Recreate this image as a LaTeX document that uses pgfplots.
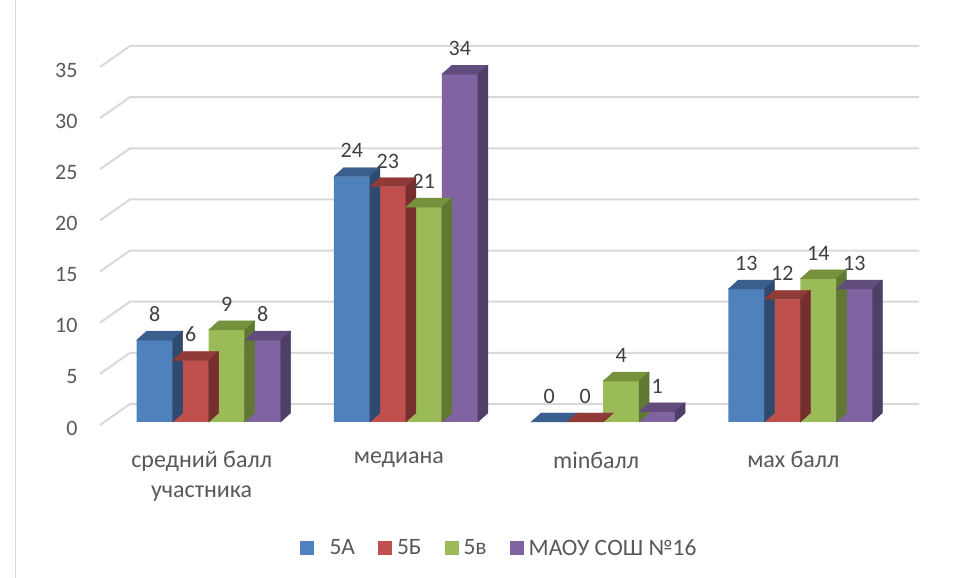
\documentclass[border=0pt]{standalone}
\usepackage{fontspec}
\setmainfont{Carlito}
\usepackage{pgfplots}
\pgfplotsset{compat=1.18}
\definecolor{cA}{HTML}{4F81BD}
\definecolor{cB}{HTML}{C0504D}
\definecolor{cC}{HTML}{9BBB59}
\definecolor{cD}{HTML}{8064A2}
\definecolor{tA}{HTML}{3A5F8F}
\definecolor{sA}{HTML}{2E4A6E}
\definecolor{tB}{HTML}{913B38}
\definecolor{sB}{HTML}{772F2D}
\definecolor{tC}{HTML}{76923C}
\definecolor{sC}{HTML}{617832}
\definecolor{tD}{HTML}{614D7D}
\definecolor{sD}{HTML}{4F3E66}
\definecolor{lbl}{HTML}{595959}
\definecolor{dlbl}{HTML}{404040}
\definecolor{gridc}{HTML}{D9D9D9}
\pgfdeclareplotmark{nomark}{}
\pgfplotsset{
  bars/.style={ybar, bar width=36pt, bar shift=#1, draw=none,
    nodes near coords,
    every node near coord/.append style={font=\fontsize{22}{26}\selectfont, text=dlbl, xshift=#1, yshift=15pt}},
  cube/.style n args={3}{forget plot, scatter, only marks, mark=nomark,
    visualization depends on={rawy \as \rawv},
    scatter/@pre marker code/.code={%
      \pgfmathsetmacro{\hh}{\rawv*358/35}%
      \fill[#2] (#1-18pt,0pt) -- (#1-8pt,9pt) -- (#1+28pt,9pt) -- (#1+18pt,0pt) -- cycle;
      \fill[#3] (#1+18pt,0pt) -- (#1+28pt,9pt) -- (#1+28pt,9pt-\hh pt) -- (#1+18pt,-\hh pt) -- cycle;
    },
    scatter/@post marker code/.code={}},
}
\begin{document}
\begin{tikzpicture}
\useasboundingbox (0,0) rectangle (959pt,578pt);
\draw[line width=1pt, color=gridc] (15pt,0) -- (15pt,578pt);
\begin{axis}[
  at={(110pt,156pt)}, anchor=south west,
  scale only axis, width=789pt, height=358pt,
  xmin=-0.5, xmax=3.5, ymin=0, ymax=35,
  ytick={0,5,...,35},
  xtick={0,1,2,3},
  xticklabels={{средний балл\\участника},медиана,minбалл,мах балл},
  axis line style={draw=none}, major tick length=0pt,
  y tick label style={font=\fontsize{22}{26}\selectfont, text=lbl, xshift=-29pt, yshift=-6pt},
  x tick label style={font=\fontsize{24}{30}\selectfont, text=lbl, align=center, yshift=-26pt, xshift=-7pt},
  /pgf/number format/assume math mode=true,
  legend style={at={(0.493,-0.352)}, anchor=center, draw=none, legend columns=-1,
    font=\fontsize{23.5}{27}\selectfont, text=lbl},
  legend image code/.code={\fill[#1, draw=none] (0pt,-7pt) rectangle (14pt,7pt);},
  clip=false,
]
\pgfplotsinvokeforeach{0,5,10,15,20,25,30,35}{
  \draw[line width=2pt, color=gridc, line join=round] (axis cs:-0.5,#1) ++(-10pt,-3pt) -- ++(30pt,21pt) -- ++(789pt,0pt);
}
\addplot[bars=-54pt, fill=cA] coordinates {(0,8) (1,24) (2,0) (3,13)};
\addplot[cube={-54}{tA}{sA}] coordinates {(0,8) (1,24) (2,0) (3,13)};
\addplot[bars=-18pt, fill=cB] coordinates {(0,6) (1,23) (2,0) (3,12)};
\addplot[cube={-18}{tB}{sB}] coordinates {(0,6) (1,23) (2,0) (3,12)};
\addplot[bars=18pt, fill=cC] coordinates {(0,9) (1,21) (2,4) (3,14)};
\addplot[cube={18}{tC}{sC}] coordinates {(0,9) (1,21) (2,4) (3,14)};
\addplot[bars=54pt, fill=cD] coordinates {(0,8) (1,34) (2,1) (3,13)};
\addplot[cube={54}{tD}{sD}] coordinates {(0,8) (1,34) (2,1) (3,13)};
\legend{\hspace{14pt}5А\hspace{21pt}\mbox{},\hspace{3pt}5Б\hspace{21pt}\mbox{},\hspace{3pt}5в\hspace{21pt}\mbox{},\hspace{3pt}МАОУ СОШ №16}
\end{axis}
\end{tikzpicture}
\end{document}
